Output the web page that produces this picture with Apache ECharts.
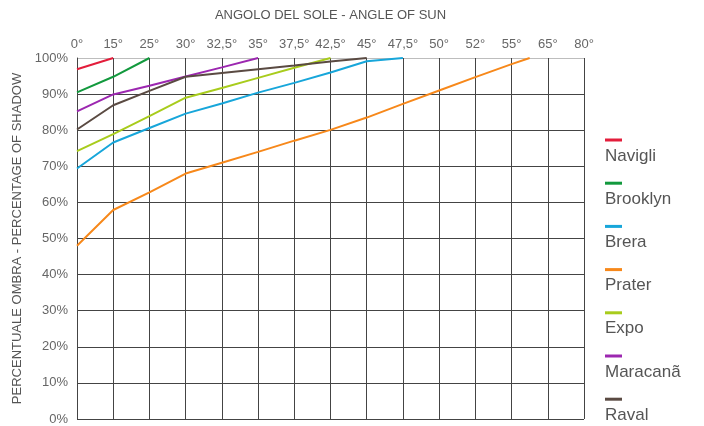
<!DOCTYPE html>
<html>
<head>
<meta charset="utf-8">
<script src="https://cdn.jsdelivr.net/npm/echarts@6/dist/echarts.min.js"></script>
<style>
  html, body { margin: 0; padding: 0; background: #fff; }
  #chart { width: 704px; height: 426px; }
</style>
</head>
<body>
<div id="chart"></div>
<script>
// angoli (categorie asse x, in alto)
const angleLabels = ['0°', '15°', '25°', '30°', '32,5°', '35°', '37,5°', '42,5°', '45°', '47,5°', '50°', '52°', '55°', '65°', '80°']
const yTicks = [0, 10, 20, 30, 40, 50, 60, 70, 80, 90, 100]

// [indice angolo, % ombra]
const navigli = [[0, 96.9], [1, 100]]
const brooklyn = [[0, 90.5], [1, 94.8], [2, 100]]
const brera = [[0, 69.4], [1, 76.6], [2, 80.6], [3, 84.6], [4, 87.4], [5, 90.4], [6, 93.1], [7, 96], [8, 99.1], [9, 100]]
const prater = [[0, 48], [1, 57.9], [2, 62.8], [3, 68], [4, 71], [5, 74], [6, 77.1], [7, 80.1], [8, 83.5], [9, 87.3], [10, 91], [11, 94.7], [12, 98.3], [12.5, 100]]
const expo = [[0, 74.2], [1, 78.9], [2, 83.9], [3, 89], [4, 91.7], [5, 94.5], [6, 97.3], [7, 100]]
const maracana = [[0, 85.2], [1, 89.9], [2, 92.3], [3, 94.9], [4, 97.4], [5, 100]]
const raval = [[0, 80.2], [1, 86.9], [2, 90.9], [3, 94.8], [5, 96.9], [6, 97.9], [7, 99], [8, 100]]

const names = ['Navigli', 'Brooklyn', 'Brera', 'Prater', 'Expo', 'Maracanã', 'Raval']
const seriesData = [navigli, brooklyn, brera, prater, expo, maracana, raval]
const colors = ['#e31d3b', '#12993d', '#17a6da', '#f7881a', '#a8cc1c', '#9c27b0', '#5a4a42']

const chart = echarts.init(document.getElementById('chart'))

// rich text per la legenda: barretta colorata sopra il nome
const rich = { name: { fontSize: 17, color: '#555', lineHeight: 26, fontFamily: 'Liberation Sans' } }
colors.forEach((c, i) => {
  rich['c' + i] = { width: 17, height: 3, backgroundColor: c, lineHeight: 6 }
})

// la linea del 100% è più chiara
const splitColors = yTicks.map((t) => (t === 100 ? '#bdbdbd' : '#444'))

chart.setOption({
  animation: false,
  color: colors,
  textStyle: { fontFamily: 'Liberation Sans' },
  grid: { left: 77, right: 120, top: 58, bottom: 7 },
  legend: {
    orient: 'vertical',
    left: 600,
    top: 134,
    padding: 0,
    itemGap: 12.7,
    itemWidth: 0,
    itemHeight: 0,
    icon: 'none',
    data: names,
    formatter: (n) => '{c' + names.indexOf(n) + '|}\n{name|' + n + '}',
    textStyle: { rich: rich, padding: 0 }
  },
  xAxis: {
    type: 'value',
    position: 'top',
    min: 0,
    max: angleLabels.length - 1,
    interval: 1,
    name: 'ANGOLO DEL SOLE - ANGLE OF SUN',
    nameLocation: 'middle',
    nameGap: 36,
    nameTextStyle: { fontSize: 13, color: '#555' },
    axisLine: { show: false },
    axisTick: { show: false },
    axisLabel: {
      fontSize: 13,
      color: '#666',
      margin: 7,
      formatter: (v) => angleLabels[v]
    },
    splitLine: { show: true, lineStyle: { color: '#444', width: 1 } }
  },
  yAxis: {
    type: 'value',
    min: 0,
    max: 100,
    interval: 10,
    name: 'PERCENTUALE OMBRA - PERCENTAGE OF SHADOW',
    nameLocation: 'middle',
    nameGap: 50,
    nameTextStyle: { fontSize: 13, color: '#555' },
    axisLine: { show: true, lineStyle: { color: '#444', width: 1 } },
    axisTick: { show: false },
    axisLabel: { fontSize: 13, color: '#666', margin: 9, formatter: '{value}%' },
    splitLine: { show: true, lineStyle: { color: splitColors, width: 1 } }
  },
  series: names.map((n, i) => ({
    name: n,
    type: 'line',
    data: seriesData[i],
    symbol: 'none',
    lineStyle: { width: 2, color: colors[i] },
    itemStyle: { color: colors[i] }
  }))
})
</script>
</body>
</html>
